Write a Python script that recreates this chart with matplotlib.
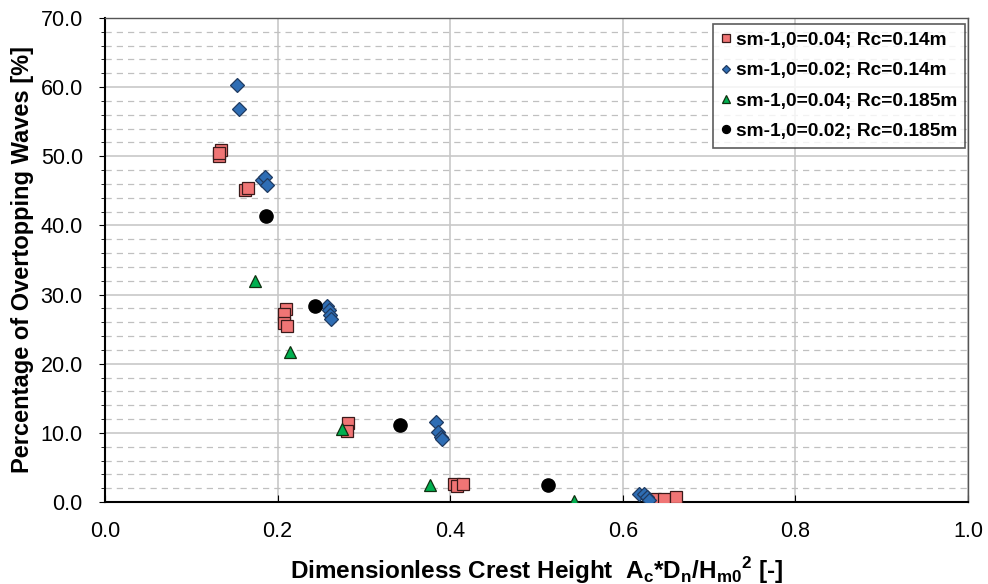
import numpy as np
import matplotlib
matplotlib.use("Agg")
import matplotlib.pyplot as plt
from matplotlib.ticker import MultipleLocator

plt.rcParams['font.family'] = ['Liberation Sans', 'DejaVu Sans']
plt.rcParams['mathtext.fontset'] = 'custom'
plt.rcParams['mathtext.bf'] = 'Liberation Sans:bold'
plt.rcParams['mathtext.rm'] = 'Liberation Sans:bold'

# sm-1,0=0.04; Rc=0.14m
sq_x = [0.132, 0.134, 0.132, 0.162, 0.166, 0.210, 0.207, 0.207, 0.211,
        0.282, 0.280, 0.404, 0.408, 0.415, 0.637, 0.648, 0.662]
sq_y = [50.0, 50.9, 50.5, 45.1, 45.4, 27.9, 27.2, 25.9, 25.4,
        11.4, 10.2, 2.6, 2.3, 2.6, 0.5, 0.5, 0.7]
# sm-1,0=0.02; Rc=0.14m
di_x = [0.153, 0.155, 0.182, 0.185, 0.188, 0.257, 0.259, 0.261, 0.262,
        0.384, 0.386, 0.389, 0.391, 0.619, 0.624, 0.628, 0.630]
di_y = [60.3, 56.8, 46.5, 47.0, 45.8, 28.3, 27.8, 27.1, 26.5,
        11.5, 10.1, 9.4, 9.1, 1.2, 1.1, 0.7, 0.3]
# sm-1,0=0.04; Rc=0.185m
tr_x = [0.174, 0.214, 0.275, 0.377, 0.543]
tr_y = [31.9, 21.7, 10.6, 2.4, 0.2]
# sm-1,0=0.02; Rc=0.185m
ci_x = [0.187, 0.243, 0.342, 0.513]
ci_y = [41.3, 28.4, 11.1, 2.4]

labels = ["sm-1,0=0.04; Rc=0.14m", "sm-1,0=0.02; Rc=0.14m",
          "sm-1,0=0.04; Rc=0.185m", "sm-1,0=0.02; Rc=0.185m"]

fig = plt.figure(figsize=(9.88, 5.84), dpi=100)
ax = fig.add_axes([0.1063, 0.1404, 0.8735, 0.8288])

ax.set_xlim(0, 1.0)
ax.set_ylim(0, 70)
ax.xaxis.set_major_locator(MultipleLocator(0.2))
ax.yaxis.set_major_locator(MultipleLocator(10))
ax.yaxis.set_minor_locator(MultipleLocator(2))
ax.grid(which='major', axis='both', color='#c8c8c8', lw=1.2, zorder=0)
ax.grid(which='minor', axis='y', color='#c0c0c0', lw=0.9, ls=(0, (5, 4)), zorder=0)
ax.set_axisbelow(True)

ax.plot(sq_x, sq_y, ls='none', marker='s', ms=9, mfc='#f07575', mec='#3a1a1a',
        mew=0.9, label=labels[0], zorder=3)
ax.plot(di_x, di_y, ls='none', marker='D', ms=7.5, mfc='#2e6db4', mec='#1f3a60',
        mew=0.9, label=labels[1], zorder=3)
ax.plot(tr_x, tr_y, ls='none', marker='^', ms=9, mfc='#00b050', mec='#103010',
        mew=0.9, label=labels[2], zorder=3)
ax.plot(ci_x, ci_y, ls='none', marker='o', ms=9.5, mfc='black', mec='black',
        label=labels[3], zorder=3)

ax.set_xticks(np.arange(0, 1.01, 0.2))
ax.set_xticklabels([f"{v:.1f}" for v in np.arange(0, 1.01, 0.2)])
ax.set_yticks(np.arange(0, 71, 10))
ax.set_yticklabels([f"{v:.1f}" for v in np.arange(0, 71, 10)])
ax.tick_params(axis='x', which='major', direction='in', length=5, labelsize=15.5, pad=14)
ax.tick_params(axis='y', which='both', direction='out', length=4, labelsize=15.5, pad=12)
ax.tick_params(axis='y', which='minor', length=3)

for s in ['left', 'bottom']:
    ax.spines[s].set_color('black')
    ax.spines[s].set_linewidth(1.5)
for s in ['top', 'right']:
    ax.spines[s].set_color('#555555')
    ax.spines[s].set_linewidth(1.0)

ax.set_xlabel(r"Dimensionless Crest Height  $\mathbf{A_c}$*$\mathbf{D_n}$/$\mathbf{H_{m0}}^\mathbf{2}$ [-]",
              fontsize=17.5, fontweight='bold', labelpad=9)
ax.set_ylabel("Percentage of Overtopping Waves [%]", fontsize=17, fontweight='bold', labelpad=5)

leg = ax.legend(loc='upper right', bbox_to_anchor=(0.9965, 0.9876), frameon=True, fancybox=False,
                markerscale=0.6, handlelength=0.5, handletextpad=0.3, borderpad=0.4,
                borderaxespad=0.0, labelspacing=0.68, prop={'weight': 'bold', 'size': 13.75})
leg.get_frame().set_edgecolor('#333333')
leg.get_frame().set_linewidth(1.2)

fig.savefig("out.png", dpi=100)
